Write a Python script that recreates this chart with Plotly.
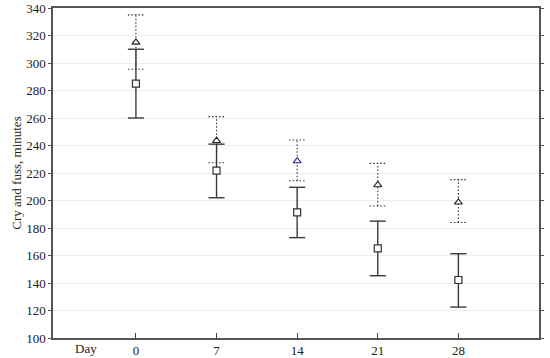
import plotly.graph_objects as go

days = [0, 7, 14, 21, 28]
tick_labels = ["0", "7", "14", "21", "28"]

# Series 1 (squares, solid error bars)
sq_mean = [285, 221.7, 191.4, 165.2, 142.2]
sq_upper = [310, 241, 209.6, 185, 161.3]
sq_lower = [260, 202, 173, 145.3, 122.5]

# Series 2 (triangles, dotted error bars)
tri_mean = [315, 243.5, 228.7, 211.3, 198.7]
tri_upper = [335, 261, 244, 227, 215.2]
tri_lower = [295.5, 227.5, 214.4, 196, 184]
tri_colors = ["#222222", "#222222", "#2a2a8a", "#222222", "#222222"]

CAP = 0.7  # half cap width in x units


def bar_paths(xs, lo, hi):
    vx, vy, cx, cy = [], [], [], []
    for x, l, h in zip(xs, lo, hi):
        vx += [x, x, None]
        vy += [l, h, None]
        cx += [x - CAP, x + CAP, None, x - CAP, x + CAP, None]
        cy += [l, l, None, h, h, None]
    return vx, vy, cx, cy


fig = go.Figure()

# solid error bars
vx, vy, cx, cy = bar_paths(days, sq_lower, sq_upper)
fig.add_trace(go.Scatter(x=vx, y=vy, mode="lines", line=dict(color="#3a3a3a", width=1.4),
                         hoverinfo="skip", showlegend=False))
fig.add_trace(go.Scatter(x=cx, y=cy, mode="lines", line=dict(color="#3a3a3a", width=1.4),
                         hoverinfo="skip", showlegend=False))

# dotted error bars
vx, vy, cx, cy = bar_paths(days, tri_lower, tri_upper)
fig.add_trace(go.Scatter(x=vx, y=vy, mode="lines", line=dict(color="#333333", width=1.1, dash="1.5px,2px"),
                         hoverinfo="skip", showlegend=False))
fig.add_trace(go.Scatter(x=cx, y=cy, mode="lines", line=dict(color="#333333", width=1.1, dash="1.5px,2px"),
                         hoverinfo="skip", showlegend=False))

# markers
fig.add_trace(go.Scatter(x=days, y=sq_mean, mode="markers",
                         marker=dict(symbol="square", size=7, color="white",
                                     line=dict(color="#333333", width=1.2)),
                         showlegend=False))
fig.add_trace(go.Scatter(x=days, y=tri_mean, mode="markers",
                         marker=dict(symbol="triangle-up", size=7, color="white",
                                     line=dict(color=tri_colors, width=1.1)),
                         showlegend=False))

font_family = "Liberation Serif, DejaVu Serif, serif"

fig.update_layout(
    width=550, height=358,
    margin=dict(l=53, r=11, t=8, b=20, autoexpand=False),
    paper_bgcolor="white", plot_bgcolor="white",
    font=dict(family=font_family, size=13, color="#222222"),
    xaxis=dict(range=[-7.2, 35], tickmode="array", tickvals=days, ticktext=tick_labels,
               ticks="inside", ticklen=5, tickcolor="#444444", showgrid=False,
               showline=True, linecolor="#555555", linewidth=1.5, mirror=True,
               zeroline=False, tickfont=dict(size=13), automargin=False),
    yaxis=dict(range=[100, 340], tickmode="linear", tick0=100, dtick=20,
               ticks="outside", ticklen=3, tickcolor="#555555",
               showgrid=True, gridcolor="#ececec", gridwidth=1,
               showline=True, linecolor="#555555", linewidth=1.5, mirror="ticks",
               zeroline=False, tickfont=dict(size=13), automargin=False,
               title=dict(text="Cry and fuss, minutes", font=dict(size=13), standoff=2)),
    annotations=[dict(x=-4.3, y=0, xref="x", yref="paper", yanchor="top", yshift=-1,
                      text="Day", showarrow=False, font=dict(size=13))],
)

fig.write_html("out.html", config={"displayModeBar": False},
               post_script="document.body.style.margin='0';")
